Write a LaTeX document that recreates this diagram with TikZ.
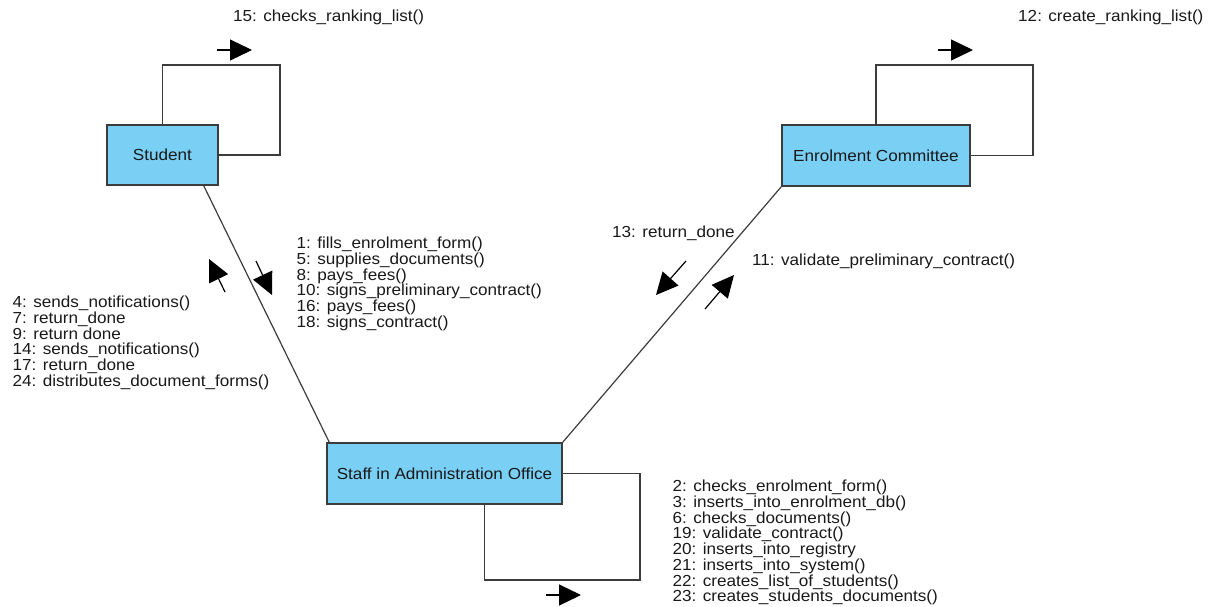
\documentclass[tikz,border=0pt]{standalone}
\usepackage{fontspec}
\usepackage{tikz}
\usetikzlibrary{arrows.meta}
\newfontfamily\umlfont[FakeStretch=1.07]{Liberation Sans}
\definecolor{objfill}{RGB}{122,207,245}
\definecolor{objline}{RGB}{60,60,60}
\definecolor{msgtext}{RGB}{25,25,25}
\tikzset{
  objbox/.style={draw=objline, line width=1.4pt, fill=objfill, inner sep=0pt, text=msgtext, font=\umlfont\fontsize{16}{15.7}\selectfont},
  link/.style={draw=objline, line width=1.2pt},
  msg/.style={anchor=north west, inner sep=0pt, align=left, text=msgtext, font=\umlfont\fontsize{16}{15.7}\selectfont},
  msgarrow/.style={line width=1.2pt, -{Triangle[length=22pt,width=21pt]}},
}
\begin{document}
\begin{tikzpicture}[x=1pt,y=1pt,yscale=-1]
\useasboundingbox (0,0) rectangle (1210,606);

% objects
\node[objbox, minimum width=111pt, minimum height=60pt] (stu) at (162.5,155) {Student};
\node[objbox, minimum width=188pt, minimum height=61pt] (com) at (876,155.5) {Enrolment Committee};
\node[objbox, minimum width=235pt, minimum height=61pt] (staff) at (444.5,473.5) {Staff in Administration Office};

% links
\draw[link] ([xshift=-15pt]stu.south east) -- ([xshift=3pt]staff.north west);
\draw[link] (staff.north east) -- (com.south west);

% self links
\coordinate (stuloop) at (280,65);
\coordinate (comloop) at (1033,65);
\coordinate (staffloop) at (640,580);
\draw[link] (stu.north) |- (stuloop) |- (stu.east);
\draw[link] (com.north) |- (comloop) |- (com.east);
\draw[link] (staff.east) -| (staffloop) -| ([xshift=40pt]staff.south);

% message arrows
\coordinate (a1) at (217,50);   \coordinate (b1) at (252,50);
\coordinate (a2) at (938,50);   \coordinate (b2) at (973,50);
\coordinate (a3) at (546,595);  \coordinate (b3) at (581,595);
\coordinate (a4) at (256,261);  \coordinate (b4) at (272,295);
\coordinate (a5) at (225,292);  \coordinate (b5) at (209,259);
\coordinate (a6) at (686,261);  \coordinate (b6) at (656,295);
\coordinate (a7) at (705,309);  \coordinate (b7) at (734,275);
\foreach \i in {1,...,7}
  \draw[msgarrow] (a\i) -- (b\i);

% messages
\node[msg] (m15) at (233,10) {15: checks\_ranking\_list()};
\node[msg] (m12) at (1018,10) {12: create\_ranking\_list()};
\node[msg] (m13) at (612,226) {13: return\_done};
\node[msg] (m11) at (752,254) {11: validate\_preliminary\_contract()};
\node[msg] (mstu) at (296.5,237) {1: fills\_enrolment\_form()\\
5: supplies\_documents()\\
8: pays\_fees()\\
10: signs\_preliminary\_contract()\\
16: pays\_fees()\\
18: signs\_contract()};
\node[msg] (mstaff) at (12.5,296) {4: sends\_notifications()\\
7: return\_done\\
9: return done\\
14: sends\_notifications()\\
17: return\_done\\
24: distributes\_document\_forms()};
\node[msg] (mself) at (672.5,480) {2: checks\_enrolment\_form()\\
3: inserts\_into\_enrolment\_db()\\
6: checks\_documents()\\
19: validate\_contract()\\
20: inserts\_into\_registry\\
21: inserts\_into\_system()\\
22: creates\_list\_of\_students()\\
23: creates\_students\_documents()};

\end{tikzpicture}
\end{document}
